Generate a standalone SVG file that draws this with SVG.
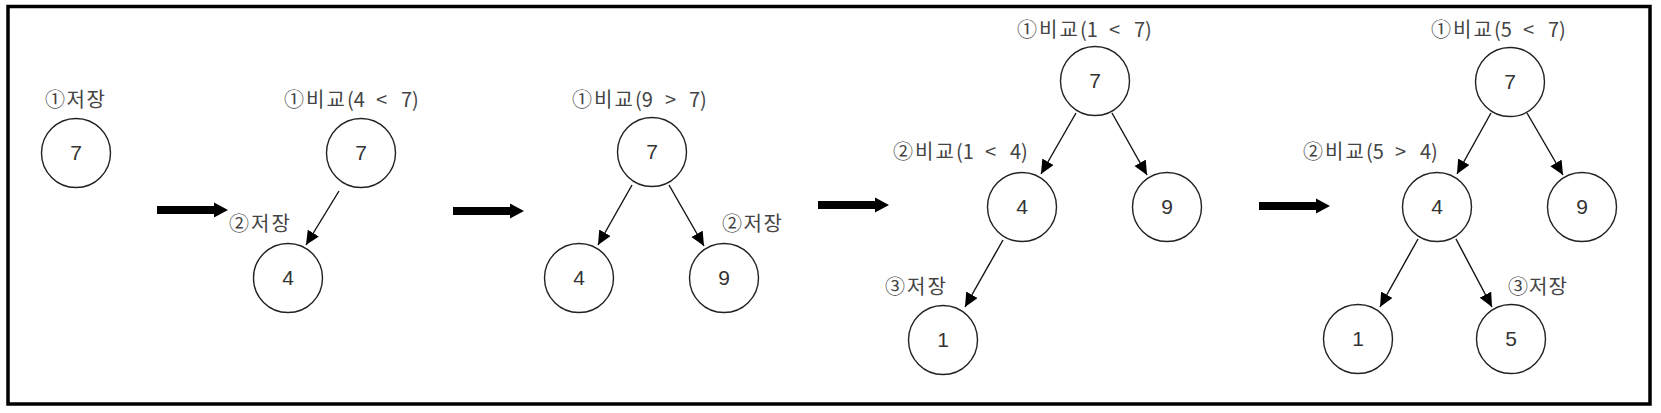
<svg xmlns="http://www.w3.org/2000/svg" width="1661" height="413" viewBox="0 0 1661 413">
<style>
.frame{fill:none;stroke:#000;stroke-width:3.5}
.node circle{fill:#fff;stroke:#222;stroke-width:1.4}
.node text{font-family:"Liberation Sans","Noto Sans CJK KR",sans-serif;font-size:21px;fill:#333;text-anchor:middle}
.lbl{font-family:"Noto Sans CJK KR","Liberation Sans",sans-serif;font-size:20px;fill:#444}
.edge{stroke:#111;stroke-width:1.4;fill:none;marker-end:url(#ah)}
.step{fill:#000}
</style>
<defs>
<marker id="ah" markerUnits="userSpaceOnUse" markerWidth="16" markerHeight="14" refX="14" refY="6.5" orient="auto">
<path d="M0,0 L14,6.5 L0,13 Z" fill="#000"/>
</marker>
<polygon id="bigarrow" points="0,-4 57,-4 57,-7.5 71,0 57,7.5 57,4 0,4"/>
</defs>
<rect class="frame" x="8" y="6.5" width="1642" height="397.5"/>

<g id="steps" class="step">
<use href="#bigarrow" x="157" y="210"/>
<use href="#bigarrow" x="453" y="211"/>
<use href="#bigarrow" x="818" y="205"/>
<use href="#bigarrow" x="1259" y="206"/>
</g>

<g id="connectors">
<line class="edge" x1="339" y1="191" x2="306" y2="245"/>
<line class="edge" x1="632" y1="185" x2="598" y2="245"/>
<line class="edge" x1="669" y1="185" x2="704" y2="246"/>
<line class="edge" x1="1076" y1="113" x2="1041" y2="174"/>
<line class="edge" x1="1112" y1="113" x2="1147" y2="175"/>
<line class="edge" x1="1003" y1="240" x2="965" y2="307"/>
<line class="edge" x1="1491" y1="113" x2="1457" y2="174"/>
<line class="edge" x1="1527" y1="113" x2="1563" y2="175"/>
<line class="edge" x1="1418" y1="239" x2="1380" y2="307"/>
<line class="edge" x1="1456" y1="239" x2="1492" y2="307"/>
</g>

<g id="labels">
<text class="lbl" x="45" y="107" textLength="60" lengthAdjust="spacing">①저장</text>
<text class="lbl" y="107"><tspan x="284" textLength="61" lengthAdjust="spacing">①비교</tspan><tspan x="347">(4</tspan><tspan x="376">&lt;</tspan><tspan x="401">7)</tspan></text>
<text class="lbl" x="229" y="231" textLength="61" lengthAdjust="spacing">②저장</text>
<text class="lbl" y="107"><tspan x="572" textLength="61" lengthAdjust="spacing">①비교</tspan><tspan x="635">(9</tspan><tspan x="665">&gt;</tspan><tspan x="689">7)</tspan></text>
<text class="lbl" x="722" y="231" textLength="60" lengthAdjust="spacing">②저장</text>
<text class="lbl" y="37"><tspan x="1017" textLength="61" lengthAdjust="spacing">①비교</tspan><tspan x="1080">(1</tspan><tspan x="1109">&lt;</tspan><tspan x="1134">7)</tspan></text>
<text class="lbl" y="159"><tspan x="893" textLength="61" lengthAdjust="spacing">②비교</tspan><tspan x="956">(1</tspan><tspan x="985">&lt;</tspan><tspan x="1010">4)</tspan></text>
<text class="lbl" x="885" y="294" textLength="61" lengthAdjust="spacing">③저장</text>
<text class="lbl" y="37"><tspan x="1431" textLength="61" lengthAdjust="spacing">①비교</tspan><tspan x="1494">(5</tspan><tspan x="1523">&lt;</tspan><tspan x="1548">7)</tspan></text>
<text class="lbl" y="159"><tspan x="1303" textLength="61" lengthAdjust="spacing">②비교</tspan><tspan x="1366">(5</tspan><tspan x="1395">&gt;</tspan><tspan x="1420">4)</tspan></text>
<text class="lbl" x="1508" y="294" textLength="59" lengthAdjust="spacing">③저장</text>
</g>

<g id="s1-n7" class="node"><circle cx="76" cy="153" r="34.5"/><text x="76" y="160">7</text></g>

<g id="s2-n7" class="node"><circle cx="361" cy="153" r="34.5"/><text x="361" y="160">7</text></g>
<g id="s2-n4" class="node"><circle cx="288" cy="278" r="34.5"/><text x="288" y="285">4</text></g>

<g id="s3-n7" class="node"><circle cx="652" cy="152" r="34.5"/><text x="652" y="159">7</text></g>
<g id="s3-n4" class="node"><circle cx="579" cy="278" r="34.5"/><text x="579" y="285">4</text></g>
<g id="s3-n9" class="node"><circle cx="724" cy="278" r="34.5"/><text x="724" y="285">9</text></g>

<g id="s4-n7" class="node"><circle cx="1095" cy="81" r="34.5"/><text x="1095" y="88">7</text></g>
<g id="s4-n4" class="node"><circle cx="1022" cy="207" r="34.5"/><text x="1022" y="214">4</text></g>
<g id="s4-n9" class="node"><circle cx="1167" cy="207" r="34.5"/><text x="1167" y="214">9</text></g>
<g id="s4-n1" class="node"><circle cx="943" cy="340" r="34.5"/><text x="943" y="347">1</text></g>

<g id="s5-n7" class="node"><circle cx="1510" cy="82" r="34.5"/><text x="1510" y="89">7</text></g>
<g id="s5-n4" class="node"><circle cx="1437" cy="207" r="34.5"/><text x="1437" y="214">4</text></g>
<g id="s5-n9" class="node"><circle cx="1582" cy="207" r="34.5"/><text x="1582" y="214">9</text></g>
<g id="s5-n1" class="node"><circle cx="1358" cy="339" r="34.5"/><text x="1358" y="346">1</text></g>
<g id="s5-n5" class="node"><circle cx="1511" cy="339" r="34.5"/><text x="1511" y="346">5</text></g>
</svg>
